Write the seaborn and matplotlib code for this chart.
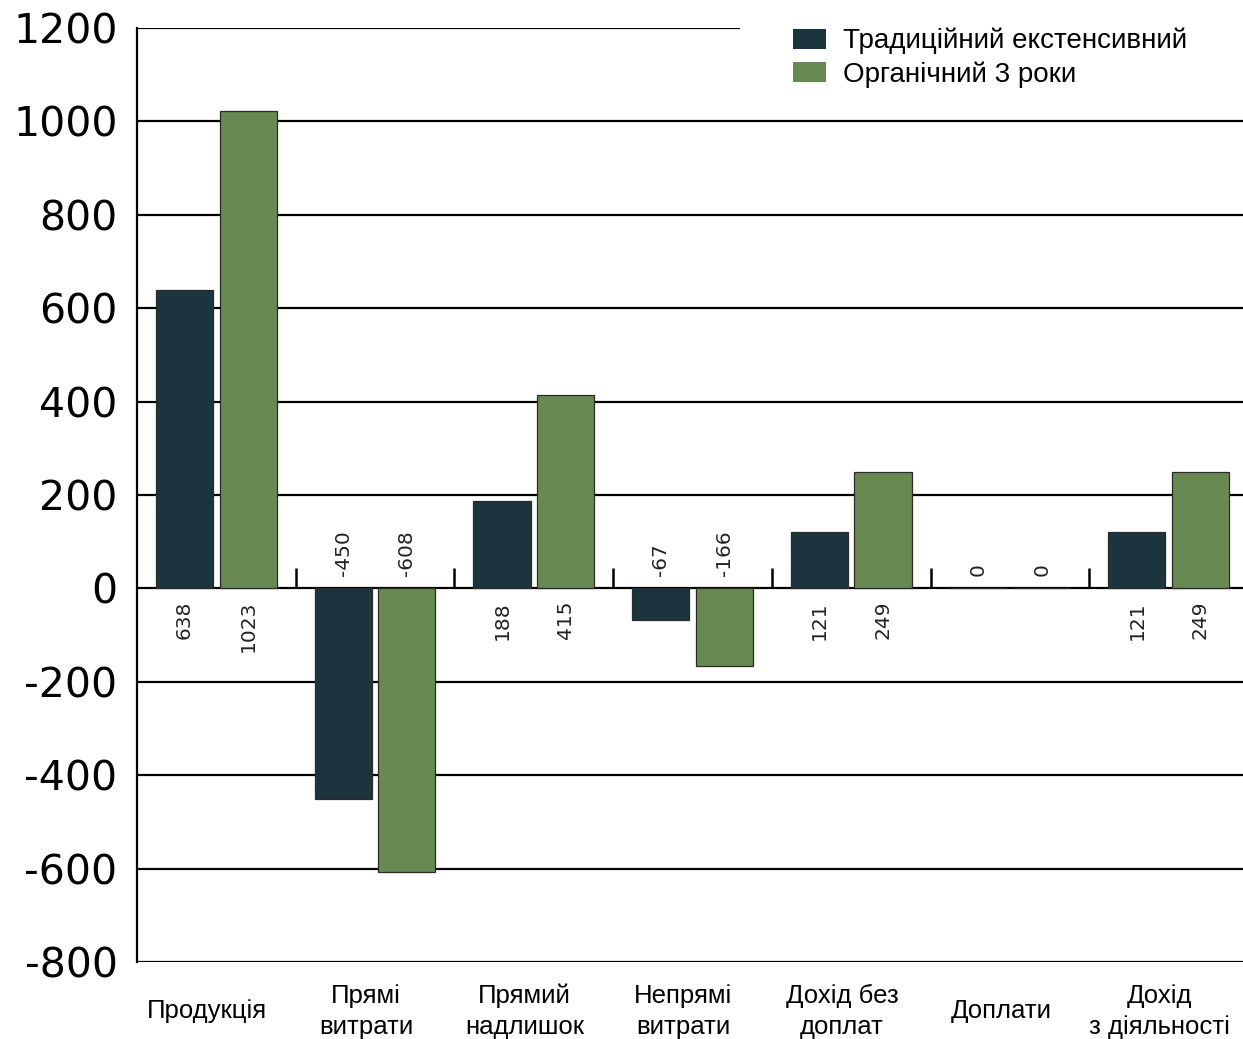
import matplotlib
matplotlib.use("Agg")
import matplotlib.pyplot as plt
import seaborn as sns
import pandas as pd
from matplotlib.patches import Rectangle

categories = ["Продукція", "Прямі\nвитрати", "Прямий\nнадлишок", "Непрямі\nвитрати",
              "Дохід без\nдоплат", "Доплати", "Дохід\nз діяльності"]
series_names = ["Традиційний екстенсивний", "Органічний 3 роки"]
traditional = [638, -450, 188, -67, 121, 0, 121]
organic = [1023, -608, 415, -166, 249, 0, 249]
y_ticks = [-800, -600, -400, -200, 0, 200, 400, 600, 800, 1000, 1200]

colors = {series_names[0]: "#173642", series_names[1]: "#67924a"}

df = pd.DataFrame({
    "cat": categories * 2,
    "series": [series_names[0]] * len(categories) + [series_names[1]] * len(categories),
    "value": traditional + organic,
})

sns.set_theme(style="white")
plt.rcParams['font.family'] = ['DejaVu Sans']

fig = plt.figure(figsize=(12.43, 10.39), dpi=100)
ax = fig.add_axes([137 / 1243, 1 - 962 / 1039, (1248 - 137) / 1243, (962 - 28) / 1039])

sns.barplot(data=df, x="cat", y="value", hue="series", palette=colors, order=categories,
            hue_order=series_names, width=0.8, gap=0.1, edgecolor="#2a2a2a", linewidth=0.9,
            ax=ax, zorder=3)

ax.set_ylim(-800, 1200)
ax.set_xlim(-0.5, len(categories) - 0.5)
ax.set_yticks(y_ticks)
ax.set_yticklabels([str(t) for t in y_ticks], fontsize=29.5, color="black")
ax.tick_params(axis="y", length=0, pad=14)
ax.set_xlabel("")
ax.set_ylabel("")

# category labels (slightly left of the category centres, vertically centred)
ax.set_xticks(range(len(categories)))
ax.set_xticklabels([])
ax.tick_params(axis="x", length=0)
for i, cat in enumerate(categories):
    ax.annotate(cat, xy=(i, 0), xycoords=("data", "axes fraction"), xytext=(-6.5, -35.5),
                textcoords="offset points", ha="center", va="center", fontsize=18.5,
                family=["Liberation Sans", "DejaVu Sans"], linespacing=1.4,
                multialignment="center", color="black", annotation_clip=False)

ax.set_axisbelow(True)
ax.yaxis.grid(True, color="black", linewidth=1.6)
for side in ["top", "right", "bottom"]:
    ax.spines[side].set_visible(False)
ax.spines["left"].set_color("black")
ax.spines["left"].set_linewidth(1.6)

# boundary tick marks on the zero line
for i in range(1, len(categories)):
    ax.plot([i - 0.5, i - 0.5], [0, 44], color="black", lw=1.8, zorder=4, solid_capstyle="butt")

# value labels
for cont, vals in zip(ax.containers, [traditional, organic]):
    for bar, v in zip(cont, vals):
        xc = bar.get_x() + bar.get_width() / 2
        if v > 0:
            ax.annotate(str(v), (xc, 0), xytext=(0, -9), textcoords="offset points",
                        rotation=90, ha="center", va="top", fontsize=14.5, color="#222222")
        else:
            ax.annotate(str(v), (xc, 0), xytext=(0, 9), textcoords="offset points",
                        rotation=90, ha="center", va="bottom", fontsize=14.5, color="#222222")

# white area behind the legend
ax.add_artist(Rectangle((740 / 1243, 1 - 100 / 1039), 1 - 740 / 1243 + 0.01, 100 / 1039 + 0.01,
                        transform=fig.transFigure, facecolor="white", edgecolor="none",
                        clip_on=False, zorder=4.5))

leg = ax.legend(loc="upper left", bbox_to_anchor=(793 / 1243, 1 - 28 / 1039),
                bbox_transform=fig.transFigure, frameon=False, borderpad=0, borderaxespad=0,
                handlelength=1.2, handleheight=0.75, handletextpad=0.6, labelspacing=0.25,
                prop={"family": ["Liberation Sans", "DejaVu Sans"], "size": 20})
leg.set_zorder(6)
for t in leg.get_texts():
    t.set_color("black")
for h in leg.legend_handles:
    h.set_edgecolor("none")

fig.savefig("out.png", dpi=100)
